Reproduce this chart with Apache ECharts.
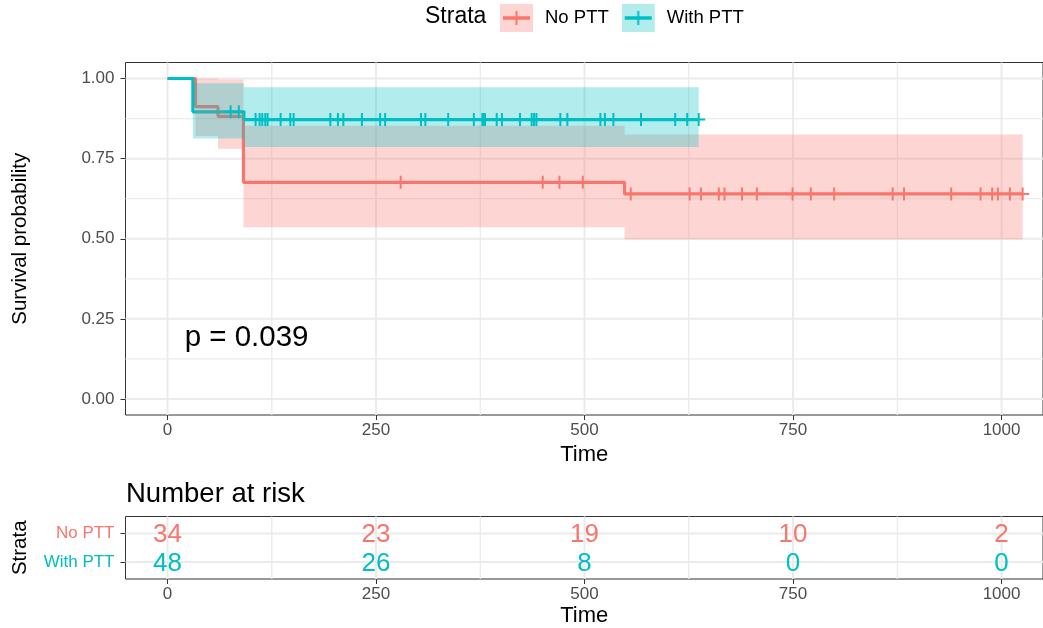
<!DOCTYPE html>
<html><head><meta charset="utf-8">
<script src="https://cdn.jsdelivr.net/npm/echarts@6/dist/echarts.min.js"></script>
<style>html,body{margin:0;padding:0;background:#fff}#c{width:1043px;height:628px}</style>
</head><body><div id="c"></div>
<script>
// ---------------- data ----------------
const strata = ['No PTT', 'With PTT'];
const strataColors = ['#F8766D', '#00BFC4'];
// Kaplan-Meier step curves: [time, survival]
const noPttSteps = [[0, 1], [33.5, 0.912], [60.5, 0.882], [91, 0.676], [548, 0.640], [1025.3, 0.640]];
const withPttSteps = [[0, 1], [30.4, 0.896], [91.5, 0.872], [636.9, 0.872]];
// confidence bands: [start, end, lower, upper]
const noPttBand = [[33.5, 60.5, 0.821, 1.0], [60.5, 91, 0.781, 0.997], [91, 548, 0.536, 0.853], [548, 1025.3, 0.498, 0.825]];
const withPttBand = [[30.4, 91.5, 0.813, 0.985], [91.5, 636.9, 0.786, 0.973]];
// censoring times
const noPttCensor = [279.5, 449.9, 469.9, 497.9, 555.4, 626, 639.6, 661, 667.8, 688.9, 706.6, 749.4, 771.4, 799.3, 869.4, 883, 939.6, 974.8, 988.8, 995.6, 1010, 1025.3];
const withPttCensor = [75.6, 85.5, 105.6, 110.4, 113.6, 117.2, 120, 135.6, 147.2, 151.2, 195.2, 204.3, 210.8, 233.1, 254.9, 260.9, 303.9, 309.1, 336.5, 367.3, 377.5, 379, 380.6, 394.7, 401, 422.6, 436.6, 439.5, 442.3, 471, 479.4, 519, 524.4, 534.6, 567.7, 608.7, 623.1, 636.9];
// number at risk table
const riskTimes = [0, 250, 500, 750, 1000];
const riskNoPtt = [34, 23, 19, 10, 2];
const riskWithPtt = [48, 26, 8, 0, 0];
// ticks and grid lines
const xTicks = [0, 250, 500, 750, 1000];
const xGrid = [0, 125, 250, 375, 500, 625, 750, 875, 1000];
const yTicks = [0, 0.25, 0.5, 0.75, 1];
const yGrid = [0, 0.125, 0.25, 0.375, 0.5, 0.625, 0.75, 0.875, 1];
const riskRows = [1, 2];
const pValueText = 'p = 0.039';
const pValuePos = [20.5, 0.2];

// ---------------- helpers ----------------
const FONT = 'Liberation Sans, Arial, Helvetica, sans-serif';
function survAt(steps, t) {
  let s = steps[0][1];
  for (const p of steps) { if (p[0] <= t) s = p[1]; }
  return s;
}
function pale(hex) {
  const n = parseInt(hex.slice(1), 16);
  const r = (n >> 16) & 255, g = (n >> 8) & 255, b = n & 255;
  const m = v => Math.round(v * 0.3 + 255 * 0.7);
  return 'rgb(' + m(r) + ',' + m(g) + ',' + m(b) + ')';
}
function legendIcon(color) {
  const c = document.createElement('canvas');
  c.width = 40; c.height = 28;
  const ctx = c.getContext('2d');
  ctx.fillStyle = pale(color);
  ctx.fillRect(0, 0, 33, 28);
  ctx.strokeStyle = color;
  ctx.lineWidth = 3.5;
  ctx.beginPath(); ctx.moveTo(3, 14); ctx.lineTo(30, 14); ctx.stroke();
  ctx.lineWidth = 2;
  ctx.beginPath(); ctx.moveTo(16.5, 7); ctx.lineTo(16.5, 21); ctx.stroke();
  return 'image://' + c.toDataURL();
}
function bandPolygon(band) {
  return function (params, api) {
    if (params.dataIndex !== 0) return null;
    const pts = [];
    band.forEach(r => { pts.push(api.coord([r[0], r[3]])); pts.push(api.coord([r[1], r[3]])); });
    for (let i = band.length - 1; i >= 0; i--) {
      const r = band[i];
      pts.push(api.coord([r[1], r[2]])); pts.push(api.coord([r[0], r[2]]));
    }
    return { type: 'polygon', shape: { points: pts }, style: { fill: api.visual('color'), opacity: 0.3 } };
  };
}
const plusPath = 'path://M5.5,0H7.5V5.5H13V7.5H7.5V13H5.5V7.5H0V5.5H5.5Z';

// grid lines drawn as a custom series underneath everything
function gridSeries(idx, xs, ys, majorX, majorY) {
  const data = xs.map(v => [0, v]).concat(ys.map(v => [1, v]));
  return {
    type: 'custom', xAxisIndex: idx, yAxisIndex: idx, z: 0, silent: true, clip: false,
    data: data,
    renderItem: function (params, api) {
      const cs = params.coordSys;
      const kind = api.value(0), v = api.value(1);
      const major = kind === 0 ? majorX.includes(v) : majorY.includes(v);
      const w = major ? 2 : 1.3;
      let shape;
      if (kind === 0) {
        const x = api.coord([v, 0])[0];
        shape = { x1: x, y1: cs.y, x2: x, y2: cs.y + cs.height };
      } else {
        const y = api.coord([0, v])[1];
        shape = { x1: cs.x, y1: y, x2: cs.x + cs.width, y2: y };
      }
      return { type: 'line', shape: shape, style: { stroke: '#EBEBEB', lineWidth: w } };
    }
  };
}

const X_MIN = -50.4, X_MAX = 1049.7;
const chart = echarts.init(document.getElementById('c'), null, { renderer: 'canvas' });
const option = {
  animation: false,
  backgroundColor: '#fff',
  textStyle: { fontFamily: FONT },
  title: [
    { text: 'Strata', left: 425, top: 5, padding: 0, textStyle: { fontFamily: FONT, fontSize: 23, fontWeight: 'normal', color: '#000' } },
    { text: 'Number at risk', left: 126, top: 480, padding: 0, textStyle: { fontFamily: FONT, fontSize: 27.5, fontWeight: 'normal', color: '#000' } }
  ],
  legend: {
    left: 500, top: 4, itemWidth: 40, itemHeight: 28, itemGap: 13, padding: 0,
    textStyle: { fontFamily: FONT, fontSize: 18.5, color: '#000' },
    data: strata.map((s, i) => ({ name: s, icon: legendIcon(strataColors[i]) })),
    selectedMode: false
  },
  grid: [
    { left: 125.5, top: 62.5, right: 0, height: 352.5, show: true, borderColor: '#333333', borderWidth: 1, backgroundColor: 'transparent' },
    { left: 125.5, top: 516.5, right: 0, height: 62.5, show: true, borderColor: '#333333', borderWidth: 1, backgroundColor: 'transparent' }
  ],
  xAxis: [0, 1].map(i => ({
    type: 'value', gridIndex: i, min: X_MIN, max: X_MAX, position: 'bottom',
    axisLine: { show: false, onZero: false },
    splitLine: { show: false },
    axisTick: { show: true, length: 5, customValues: xTicks, lineStyle: { color: '#333333', width: 1 } },
    axisLabel: { customValues: xTicks, formatter: v => String(v), fontFamily: FONT, fontSize: 17, color: '#4D4D4D', margin: 7 },
    name: 'Time', nameLocation: 'middle', nameGap: 26,
    nameTextStyle: { fontFamily: FONT, fontSize: 22, color: '#000' }
  })),
  yAxis: [
    {
      type: 'value', gridIndex: 0, min: -0.05, max: 1.05, position: 'left',
      axisLine: { show: false, onZero: false }, splitLine: { show: false },
      axisTick: { show: true, length: 5, customValues: yTicks, lineStyle: { color: '#333333', width: 1 } },
      axisLabel: { customValues: yTicks, formatter: v => v.toFixed(2), fontFamily: FONT, fontSize: 17, color: '#4D4D4D', margin: 11 },
      name: 'Survival probability', nameLocation: 'middle', nameRotate: 90, nameGap: 95,
      nameTextStyle: { fontFamily: FONT, fontSize: 20.5, color: '#000' }
    },
    {
      type: 'value', gridIndex: 1, min: 0.4, max: 2.6, position: 'left',
      axisLine: { show: false, onZero: false }, splitLine: { show: false },
      axisTick: { show: true, length: 5, customValues: riskRows, lineStyle: { color: '#333333', width: 1 } },
      axisLabel: {
        customValues: riskRows, formatter: v => (v === 2 ? strata[0] : strata[1]),
        color: v => (Number(v) === 2 ? strataColors[0] : strataColors[1]),
        fontFamily: FONT, fontSize: 17, margin: 11
      },
      name: 'Strata', nameLocation: 'middle', nameRotate: 90, nameGap: 95,
      nameTextStyle: { fontFamily: FONT, fontSize: 20.5, color: '#000' }
    }
  ],
  series: [
    gridSeries(0, xGrid, yGrid, xTicks, yTicks),
    gridSeries(1, xGrid, riskRows, xTicks, riskRows),
    // survival lines (drawn first, under ribbons as in ggsurvplot)
    { name: strata[0], type: 'line', step: 'end', xAxisIndex: 0, yAxisIndex: 0, z: 2, symbol: 'none',
      color: strataColors[0], lineStyle: { color: strataColors[0], width: 3.2 }, data: noPttSteps },
    { name: strata[1], type: 'line', step: 'end', xAxisIndex: 0, yAxisIndex: 0, z: 2, symbol: 'none',
      color: strataColors[1], lineStyle: { color: strataColors[1], width: 3.2 }, data: withPttSteps },
    // confidence ribbons
    { name: strata[0], type: 'custom', xAxisIndex: 0, yAxisIndex: 0, z: 3, color: strataColors[0],
      renderItem: bandPolygon(noPttBand), data: noPttBand, encode: { x: [0, 1], y: [2, 3] }, silent: true },
    { name: strata[1], type: 'custom', xAxisIndex: 0, yAxisIndex: 0, z: 3, color: strataColors[1],
      renderItem: bandPolygon(withPttBand), data: withPttBand, encode: { x: [0, 1], y: [2, 3] }, silent: true },
    // censor marks
    { name: strata[0], type: 'scatter', xAxisIndex: 0, yAxisIndex: 0, z: 4, symbol: plusPath, symbolSize: 13,
      itemStyle: { color: strataColors[0], opacity: 1 }, data: noPttCensor.map(t => [t, survAt(noPttSteps, t)]) },
    { name: strata[1], type: 'scatter', xAxisIndex: 0, yAxisIndex: 0, z: 4, symbol: plusPath, symbolSize: 13,
      itemStyle: { color: strataColors[1], opacity: 1 }, data: withPttCensor.map(t => [t, survAt(withPttSteps, t)]) },
    // p-value
    { type: 'scatter', xAxisIndex: 0, yAxisIndex: 0, z: 5, symbolSize: 0, silent: true,
      itemStyle: { opacity: 1 }, data: [pValuePos],
      label: { show: true, position: 'right', distance: 0, offset: [0, 3], formatter: pValueText, fontFamily: FONT, fontSize: 29.5, color: '#000', opacity: 1 } },
    // number at risk
    { type: 'scatter', xAxisIndex: 1, yAxisIndex: 1, z: 5, symbolSize: 0, silent: true,
      itemStyle: { opacity: 1 },
      data: riskTimes.map((t, i) => [t, 2, riskNoPtt[i]]),
      label: { show: true, position: 'inside', offset: [0, 1.5], formatter: p => String(p.value[2]), fontFamily: FONT, fontSize: 26, color: strataColors[0], opacity: 1 } },
    { type: 'scatter', xAxisIndex: 1, yAxisIndex: 1, z: 5, symbolSize: 0, silent: true,
      itemStyle: { opacity: 1 },
      data: riskTimes.map((t, i) => [t, 1, riskWithPtt[i]]),
      label: { show: true, position: 'inside', offset: [0, 1.5], formatter: p => String(p.value[2]), fontFamily: FONT, fontSize: 26, color: strataColors[1], opacity: 1 } }
  ]
};
chart.setOption(option);
</script>
</body></html>
